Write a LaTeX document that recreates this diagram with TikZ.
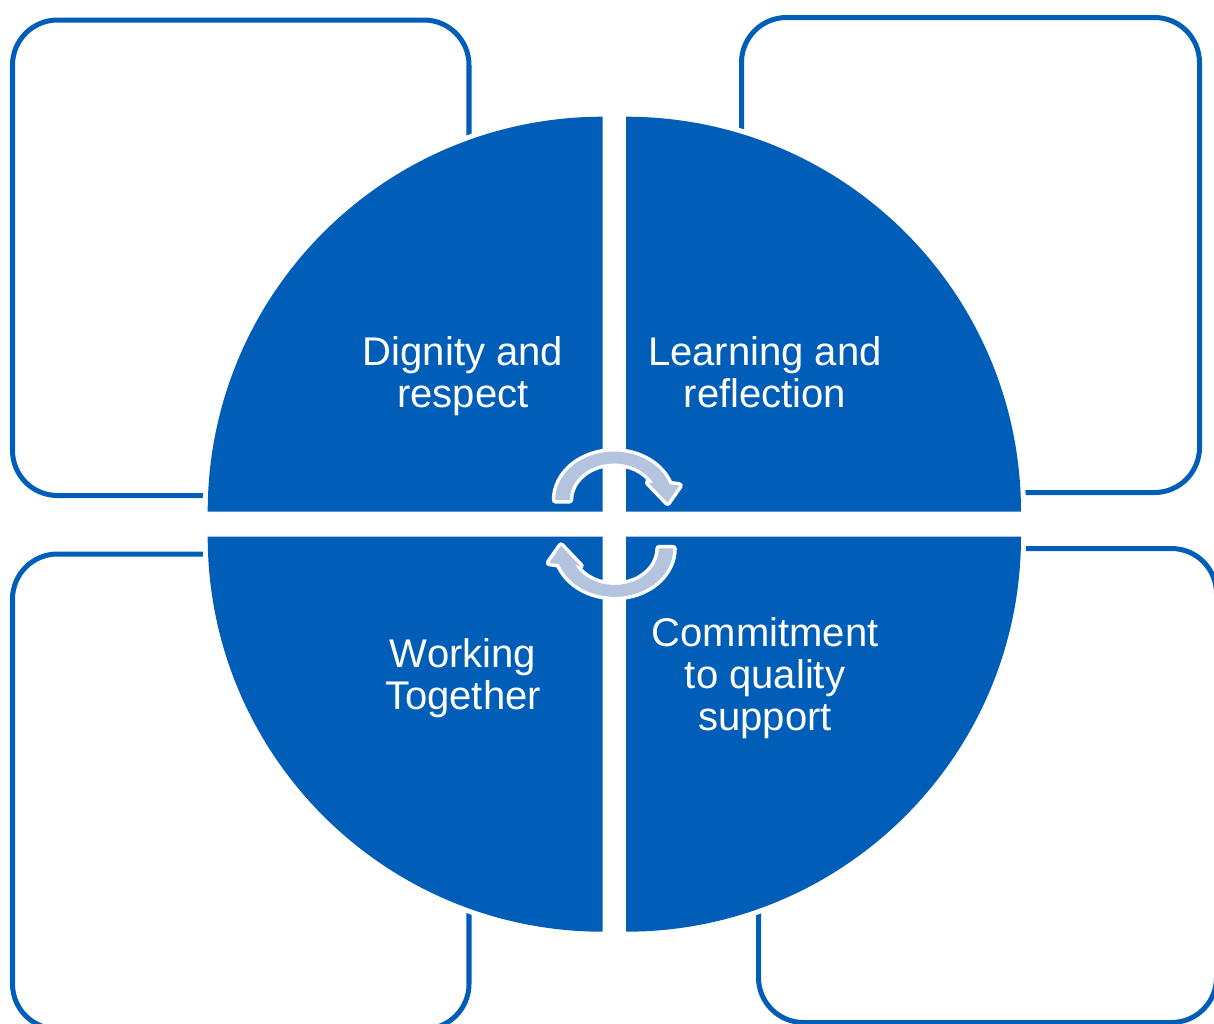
\documentclass[tikz,border=0pt]{standalone}
\usepackage{fontspec}
\setmainfont{Liberation Sans}
\definecolor{panelblue}{HTML}{005EB8}
\definecolor{arrowgrey}{HTML}{B4C3DE}
\tikzset{%
panel/.style={draw=panelblue,line width=0.05cm,rounded corners=0.45cm},
quadrant/.style={fill=panelblue,preaction={draw=white,line width=0.1cm}},
cyclebar/.style={fill=arrowgrey,preaction={draw=white,line width=0.07cm,line join=round}},
quadtext/.style={text=white,align=center,inner sep=0pt,font=\fontsize{11.38pt}{11.95pt}\selectfont},
cyclearrow/.pic={
  \path[cyclebar] (180:1.14) arc[start angle=180,end angle=341.1,radius=1.14]
     -- (1.27,-0.34) -- (1.04,0.06) -- (0.67,-0.41)
     -- (333:0.86) arc[start angle=333,end angle=180,radius=0.86] -- cycle;
}
}

\begin{document}
\begin{tikzpicture}[x=0.01cm,y=-0.01cm]

    \useasboundingbox (0,0) rectangle (1214,1023);
    \clip (0,0) rectangle (1214,1023);

    % empty panels behind the circle
    \draw[panel] (12.5,20) rectangle (469,495.5);
    \draw[panel] (741.5,17.5) rectangle (1199.5,492.5);
    \draw[panel] (12.5,554) rectangle (469,1029);
    \draw[panel] (758.5,548.5) rectangle (1216.5,1022.5);

    % four quarters of the circle
    \path[quadrant] (602.7,511.7) -- ++(-395,0) arc[start angle=180,end angle=270,radius=395] -- cycle;
    \path[quadrant] (626,511.7) -- ++(0,-395) arc[start angle=270,end angle=360,radius=395] -- cycle;
    \path[quadrant] (626,536.7) -- ++(395,0) arc[start angle=0,end angle=90,radius=395] -- cycle;
    \path[quadrant] (602.7,536.7) -- ++(0,395) arc[start angle=90,end angle=180,radius=395] -- cycle;

    \pic[xscale=51.5,yscale=42.5] (topcycle) at (614,500) {cyclearrow};
    \pic[xscale=-51.5,yscale=-42.5] (bottomcycle) at (614.6,548.4) {cyclearrow};

    \node[quadtext] (dignity) at (463,376) {Dignity and\\respect};
    \node[quadtext] (learning) at (765,372) {Learning and\\reflection};
    \node[quadtext] (working) at (463,678) {Working\\Together};
    \node[quadtext] (commitment) at (765,678) {Commitment\\to quality\\support};

\end{tikzpicture}
\end{document}
